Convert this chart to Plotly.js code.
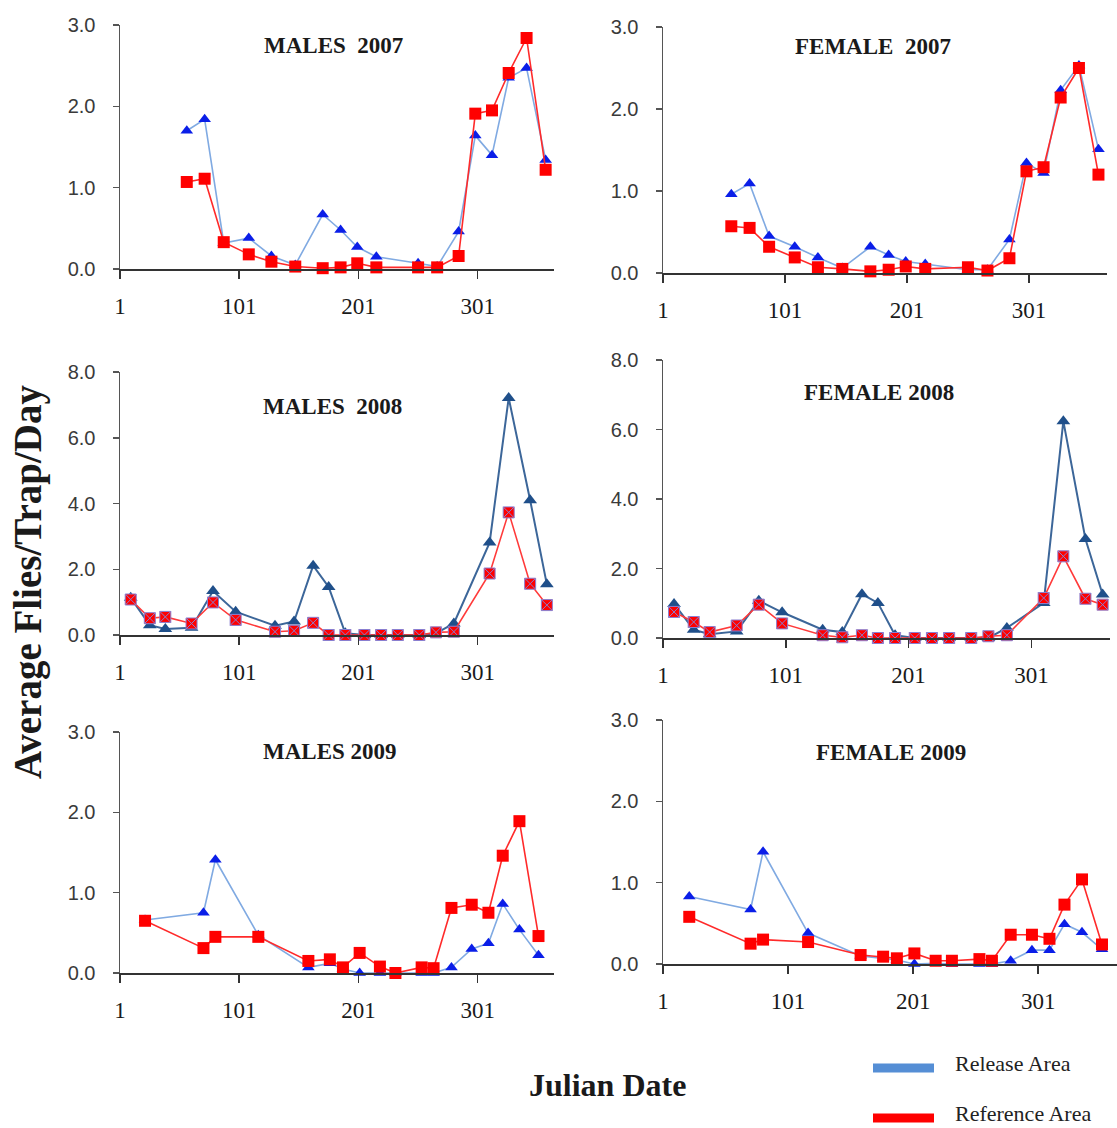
<!DOCTYPE html>
<html>
<head>
<meta charset="utf-8">
<script src="https://cdn.plot.ly/plotly-3.0.1.min.js"></script>
<style>
  html, body { margin: 0; padding: 0; background: #ffffff; }
  #chart { width: 1117px; height: 1128px; }
</style>
</head>
<body>
<div id="chart"></div>
<script>
// ---------------- DATA ----------------
const xTickVals = [1, 101, 201, 301];
const xTickText = ["1", "101", "201", "301"];

const days2007 = [57, 72, 88, 109, 128, 148, 171, 186, 200, 216, 251, 267, 285, 299, 313, 327, 342, 358];
const m07Release   = [1.70, 1.84, 0.32, 0.38, 0.16, 0.05, 0.67, 0.48, 0.27, 0.15, 0.07, 0.03, 0.46, 1.64, 1.40, 2.35, 2.47, 1.34];
const m07Reference = [1.07, 1.11, 0.33, 0.18, 0.09, 0.03, 0.01, 0.02, 0.07, 0.02, 0.02, 0.02, 0.16, 1.91, 1.95, 2.41, 2.84, 1.22];
const f07Release   = [0.96, 1.09, 0.45, 0.32, 0.19, 0.06, 0.32, 0.22, 0.14, 0.11, 0.04, 0.04, 0.41, 1.34, 1.22, 2.23, 2.53, 1.51];
const f07Reference = [0.57, 0.55, 0.32, 0.19, 0.07, 0.05, 0.02, 0.04, 0.08, 0.05, 0.07, 0.03, 0.18, 1.24, 1.29, 2.14, 2.50, 1.20];

const days2008 = [10, 26, 39, 61, 79, 98, 131, 147, 163, 176, 190, 206, 220, 234, 252, 266, 281, 311, 327, 345, 359];
const m08Release   = [1.13, 0.30, 0.18, 0.22, 1.34, 0.71, 0.28, 0.41, 2.11, 1.46, 0.05, 0, 0, 0, 0, 0.05, 0.35, 2.81, 7.21, 4.10, 1.54];
const m08Reference = [1.08, 0.51, 0.55, 0.35, 0.99, 0.46, 0.10, 0.13, 0.37, 0.00, 0.00, 0, 0, 0, 0, 0.08, 0.10, 1.87, 3.73, 1.56, 0.91];
const f08Release   = [0.98, 0.24, 0.11, 0.19, 1.07, 0.74, 0.24, 0.17, 1.26, 1.01, 0.08, 0, 0, 0, 0, 0.00, 0.29, 1.01, 6.24, 2.85, 1.25];
const f08Reference = [0.75, 0.46, 0.17, 0.36, 0.96, 0.42, 0.08, 0.02, 0.08, 0.00, 0.00, 0, 0, 0, 0, 0.05, 0.08, 1.15, 2.35, 1.13, 0.96];

const days2009 = [22, 71, 81, 117, 159, 177, 188, 202, 219, 232, 254, 264, 279, 296, 310, 322, 336, 352];
const m09Release   = [0.66, 0.75, 1.41, 0.47, 0.07, 0.12, 0.05, 0.00, 0.00, 0, 0, 0, 0.07, 0.30, 0.37, 0.86, 0.54, 0.22];
const m09Reference = [0.65, 0.31, 0.45, 0.45, 0.15, 0.17, 0.07, 0.25, 0.08, 0.00, 0.07, 0.06, 0.81, 0.85, 0.75, 1.46, 1.89, 0.46];
const f09Release   = [0.83, 0.67, 1.38, 0.38, 0.10, 0.07, 0.05, 0.00, 0.01, 0, 0, 0, 0.04, 0.17, 0.17, 0.49, 0.39, 0.18];
const f09Reference = [0.58, 0.25, 0.30, 0.27, 0.11, 0.09, 0.07, 0.13, 0.04, 0.04, 0.06, 0.04, 0.36, 0.36, 0.31, 0.73, 1.04, 0.24];

const panelTitles = ["MALES\u00A0\u00A02007", "FEMALE\u00A0\u00A02007", "MALES\u00A0\u00A02008", "FEMALE 2008", "MALES 2009", "FEMALE 2009"];
const legendLabels = ["Release Area", "Reference Area"];
const yTitle = "Average Flies/Trap/Day";
const xTitle = "Julian Date";

// ---------------- LAYOUT GEOMETRY (pixels) ----------------
const W = 1117, H = 1128;
const panels = [
  {box: [120, 554, 25, 269],   xmax: 365, ymax: 3, dtick: 1, style: "light", tx: 333, ty: 46,
   x: days2007, rel: m07Release, ref: m07Reference},
  {box: [663, 1107, 27, 273],  xmax: 365, ymax: 3, dtick: 1, style: "light", tx: 873, ty: 47,
   x: days2007, rel: f07Release, ref: f07Reference},
  {box: [120, 554, 372, 635],  xmax: 365, ymax: 8, dtick: 2, style: "dark", tx: 332, ty: 406,
   x: days2008, rel: m08Release, ref: m08Reference},
  {box: [663, 1110, 360, 638], xmax: 365, ymax: 8, dtick: 2, style: "dark", tx: 879, ty: 393,
   x: days2008, rel: f08Release, ref: f08Reference},
  {box: [120, 554, 732, 973],  xmax: 365, ymax: 3, dtick: 1, style: "light", tx: 330, ty: 751,
   x: days2009, rel: m09Release, ref: m09Reference},
  {box: [663, 1117, 720, 964], xmax: 364, ymax: 3, dtick: 1, style: "light", tx: 891, ty: 752,
   x: days2009, rel: f09Release, ref: f09Reference}
];

const styles = {
  light: {
    rel: {line: {color: "#80aae2", width: 1.6}, marker: {symbol: "triangle-up", size: 11, color: "#0a1ee8"}},
    ref: {line: {color: "#ff2a2a", width: 1.6}, marker: {symbol: "square", size: 12, color: "#ff0000"}}
  },
  dark: {
    rel: {line: {color: "#3c6699", width: 2}, marker: {symbol: "triangle-up", size: 12, color: "#1f4f8a"}},
    ref: {line: {color: "#ff3a3a", width: 1.6}, marker: {symbol: "square-x", size: 11, color: "#ff0000",
          line: {color: "#8a7fd0", width: 1}}}
  }
};

const traces = [];
const layout = {
  width: W, height: H,
  margin: {l: 0, r: 0, t: 0, b: 0},
  paper_bgcolor: "#ffffff",
  plot_bgcolor: "rgba(0,0,0,0)",
  showlegend: false,
  annotations: [],
  shapes: []
};

panels.forEach((p, i) => {
  const n = i + 1;
  const xa = n === 1 ? "x" : "x" + n;
  const ya = n === 1 ? "y" : "y" + n;
  const st = styles[p.style];
  traces.push({
    x: p.x, y: p.rel, xaxis: xa, yaxis: ya, type: "scatter", mode: "lines+markers",
    name: legendLabels[0], line: st.rel.line, marker: st.rel.marker, cliponaxis: false
  });
  traces.push({
    x: p.x, y: p.ref, xaxis: xa, yaxis: ya, type: "scatter", mode: "lines+markers",
    name: legendLabels[1], line: st.ref.line, marker: st.ref.marker, cliponaxis: false
  });
  const [l, r, t, b] = p.box;
  layout["xaxis" + (n === 1 ? "" : n)] = {
    domain: [l / W, r / W], anchor: ya, range: [1, p.xmax],
    tickmode: "array", tickvals: xTickVals, ticktext: xTickText,
    ticks: "outside", ticklen: 8, tickwidth: 1.5, tickcolor: "#333333",
    showline: true, linecolor: "#333333", linewidth: 2,
    showgrid: false, zeroline: false, ticklabelstandoff: 7,
    tickfont: {family: "Liberation Serif, Times New Roman, serif", size: 23, color: "#1a1a1a"}
  };
  layout["yaxis" + (n === 1 ? "" : n)] = {
    domain: [1 - b / H, 1 - t / H], anchor: xa, range: [0, p.ymax],
    tick0: 0, dtick: p.dtick, tickformat: ".1f",
    ticks: "outside", ticklen: 6, tickwidth: 1.5, tickcolor: "#555555",
    showline: true, linecolor: "#555555", linewidth: 1.5,
    showgrid: false, zeroline: false, ticklabelstandoff: 13,
    tickfont: {family: "Liberation Sans Narrow, Arial Narrow, Liberation Sans, sans-serif", size: 20, color: "#3a3a3a"}
  };
  layout.annotations.push({
    text: panelTitles[i], xref: "paper", yref: "paper",
    x: p.tx / W, y: 1 - p.ty / H, xanchor: "center", yanchor: "middle", showarrow: false,
    font: {family: "Liberation Serif, Times New Roman, serif", size: 23, color: "#1a1a1a", weight: "bold"}
  });
});

// axis titles
layout.annotations.push({
  text: yTitle, xref: "paper", yref: "paper", x: 28 / W, y: 1 - 582 / H,
  xanchor: "center", yanchor: "middle", textangle: -90, showarrow: false,
  font: {family: "Liberation Serif, Times New Roman, serif", size: 39, color: "#1a1a1a", weight: "bold"}
});
layout.annotations.push({
  text: xTitle, xref: "paper", yref: "paper", x: 608 / W, y: 1 - 1085 / H,
  xanchor: "center", yanchor: "middle", showarrow: false,
  font: {family: "Liberation Serif, Times New Roman, serif", size: 32, color: "#1a1a1a", weight: "bold"}
});

// legend (key lines + labels)
const legendItems = [
  {label: legendLabels[0], color: "#558ed5", ly: 1068, ty: 1063},
  {label: legendLabels[1], color: "#ff0000", ly: 1118, ty: 1113}
];
legendItems.forEach(it => {
  layout.shapes.push({
    type: "line", xref: "paper", yref: "paper",
    x0: 873 / W, x1: 934 / W, y0: 1 - it.ly / H, y1: 1 - it.ly / H,
    line: {color: it.color, width: 9}
  });
  layout.annotations.push({
    text: it.label, xref: "paper", yref: "paper", x: 953 / W, y: 1 - it.ty / H,
    xanchor: "left", yanchor: "middle", showarrow: false,
    font: {family: "Liberation Serif, Times New Roman, serif", size: 22, color: "#222222"}
  });
});

Plotly.newPlot("chart", traces, layout, {displayModeBar: false, staticPlot: true});
</script>
</body>
</html>
